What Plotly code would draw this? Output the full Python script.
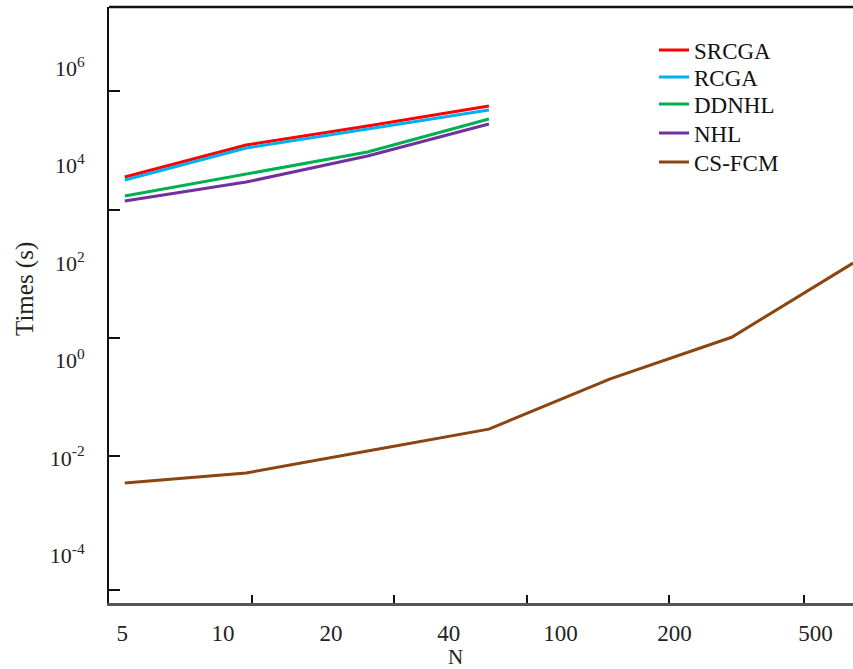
import plotly.graph_objects as go

# ---- data ----
N_labels = ["5", "10", "20", "40", "100", "200", "500"]
N_values = [5, 10, 20, 40, 100, 200, 500]

SRCGA = [5860, 26600, 65300, 168000]
RCGA = [5090, 23100, 56600, 139000]
DDNHL = [2390, 6760, 19100, 91000]
NHL = [1880, 4630, 15800, 71800]
CS_FCM = [0.00305, 0.0049, 0.0138, 0.039, 0.42, 3.0, 100]

y_tick_exponents = [-4, -2, 0, 2, 4, 6]

series = [
    ("SRCGA", SRCGA, "#FF0000"),
    ("RCGA", RCGA, "#00B0F0"),
    ("DDNHL", DDNHL, "#00B050"),
    ("NHL", NHL, "#7030A0"),
    ("CS-FCM", CS_FCM, "#8B4513"),
]

FONT = "Liberation Serif"
W, H = 853, 669
PL, PR, PT, PB = 109, 853, 7, 603  # plot area in pixels
legend_row_px = [50, 77, 104, 133, 162]

fig = go.Figure()
legend_layouts = {}
for k, (name, vals, color) in enumerate(series):
    lg = "legend" if k == 0 else f"legend{k + 1}"
    xs = list(range(len(vals)))  # evenly spaced positions for N values
    fig.add_trace(go.Scatter(
        x=xs, y=vals, mode="lines", name=name,
        line=dict(color=color, width=3),
        customdata=N_values[:len(vals)],
        legend=lg,
    ))
    legend_layouts[lg] = dict(
        x=(654 - PL) / (PR - PL), y=1 - (legend_row_px[k] - PT) / (PB - PT),
        xanchor="left", yanchor="middle",
        font=dict(family=FONT, size=23, color="#111111"),
        bgcolor="rgba(0,0,0,0)", borderwidth=0,
    )

# dummy trace for the overlay tick-mark axes
fig.add_trace(go.Scatter(x=[None], y=[None], xaxis="x2", yaxis="y2",
                         showlegend=False, hoverinfo="skip"))

x_range = [-0.13, 6.0]
y_range = [-4.98, 7.26]

# label positions (in axis units) as they appear in the figure
x_label_pos = [-0.02, 0.81, 1.70, 2.67, 3.59, 4.53, 5.69]
x_mark_pos = [1.048, 2.218, 3.314, 4.484, 5.596]
y_mark_pos = [10 ** v for v in [5.534, 3.09, 0.462, -1.96, -4.71]]

fig.update_layout(
    width=W, height=H,
    margin=dict(l=PL, r=W - PR, t=PT, b=H - PB),
    paper_bgcolor="white", plot_bgcolor="white",
    font=dict(family=FONT, size=22, color="#222222"),
    showlegend=True,
    **legend_layouts,
    xaxis=dict(
        range=x_range, showgrid=False, zeroline=False,
        tickmode="array", tickvals=x_label_pos, ticktext=N_labels,
        tickfont=dict(family=FONT, size=23),
        ticks="", ticklabelstandoff=8,
        showline=True, linecolor="#555555", linewidth=2.5,
    ),
    xaxis2=dict(
        range=x_range, overlaying="x", anchor="y", side="bottom",
        showgrid=False, zeroline=False, showline=False,
        tickmode="array", tickvals=x_mark_pos, showticklabels=False,
        ticks="inside", ticklen=8, tickwidth=2, tickcolor="#111111",
    ),
    yaxis=dict(
        type="log", range=y_range, showgrid=False, zeroline=False,
        tickmode="array",
        tickvals=[10 ** e for e in y_tick_exponents],
        ticktext=[f"10<sup>{e}</sup>" for e in y_tick_exponents],
        tickfont=dict(family=FONT, size=22),
        ticks="", ticklabelstandoff=18,
        showline=True, linecolor="#111111", linewidth=2,
    ),
    yaxis2=dict(
        type="log", range=y_range, overlaying="y", anchor="x", side="left",
        showgrid=False, zeroline=False, showline=False,
        tickmode="array", tickvals=y_mark_pos, showticklabels=False,
        ticks="inside", ticklen=11, tickwidth=2, tickcolor="#111111",
    ),
    shapes=[dict(type="line", xref="paper", yref="paper", x0=0, x1=1, y0=1, y1=1,
                 line=dict(color="#111111", width=2.5))],
    annotations=[
        dict(text="Times (s)", textangle=-90, xref="paper", yref="paper",
             x=(25 - PL) / (PR - PL), y=1 - (289 - PT) / (PB - PT),
             xanchor="center", yanchor="middle",
             showarrow=False, font=dict(family=FONT, size=25, color="#222222")),
        dict(text="N", xref="paper", yref="paper",
             x=(455 - PL) / (PR - PL), y=-(657 - PB) / (PB - PT),
             xanchor="center", yanchor="middle",
             showarrow=False, font=dict(family=FONT, size=21, color="#222222")),
    ],
)

fig.write_html("out.html")
